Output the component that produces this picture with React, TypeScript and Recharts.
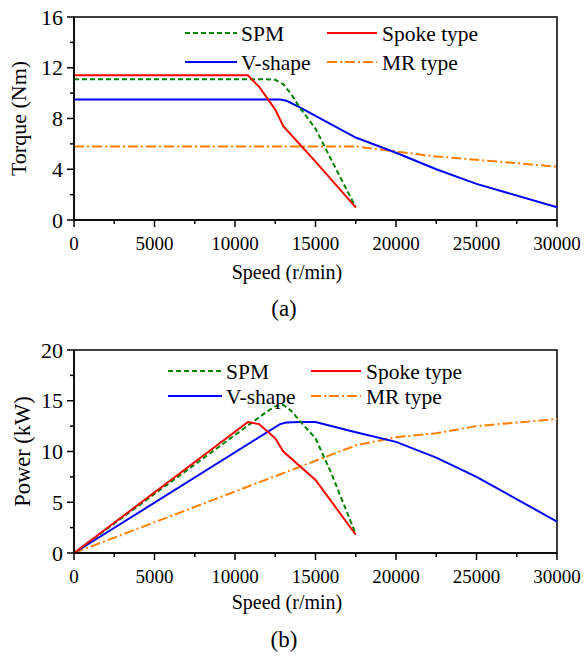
import { LineChart, Line, XAxis, YAxis, ReferenceArea, Legend } from "recharts";

const FONT = "Liberation Serif";

// speed axis
const speedTicks = [0, 2500, 5000, 7500, 10000, 12500, 15000, 17500, 20000, 22500, 25000, 27500, 30000];
const torqueTicks = [0, 2, 4, 6, 8, 10, 12, 14, 16];
const powerTicks = [0, 2.5, 5, 7.5, 10, 12.5, 15, 17.5, 20];

// SPM
const spmSpeed = [0, 12000, 12500, 13000, 13500, 14000, 15000, 16000, 17500];
const spmTorque = [11.1, 11.1, 11.05, 10.7, 9.9, 8.9, 7.2, 4.7, 1.0];
const spmPower = [0, 13.95, 14.45, 14.6, 14.0, 13.05, 11.3, 7.8, 1.85];

// Spoke type
const spokeSpeed = [0, 10800, 11500, 12000, 12500, 13000, 15000, 17500];
const spokeTorque = [11.4, 11.4, 10.5, 9.6, 8.7, 7.4, 4.6, 1.0];
const spokePower = [0, 12.9, 12.7, 12.0, 11.3, 10.0, 7.2, 1.8];

// V-shape
const vSpeed = [0, 12800, 13200, 14000, 15000, 17500, 20000, 22500, 25000, 30000];
const vTorque = [9.5, 9.5, 9.4, 8.9, 8.2, 6.5, 5.3, 4.0, 2.85, 1.0];
const vPower = [0, 12.7, 12.85, 12.9, 12.9, 11.9, 10.95, 9.4, 7.5, 3.1];

// MR type
const mrSpeed = [0, 17500, 20000, 22500, 25000, 30000];
const mrTorque = [5.8, 5.8, 5.4, 5.0, 4.75, 4.2];
const mrPower = [0, 10.6, 11.4, 11.8, 12.5, 13.2];

const toPoints = (xs: number[], ys: number[]) => xs.map((x, i) => ({ x, y: ys[i] }));

const styles = {
  spm: { name: "SPM", color: "#008000", dash: "5 3" },
  spoke: { name: "Spoke type", color: "#ff0000", dash: undefined },
  v: { name: "V-shape", color: "#0000ff", dash: undefined },
  mr: { name: "MR type", color: "#ff8000", dash: "10 3 2 3" },
};

// font as attribute and as style, both
const txt = (size: number) => ({
  fontFamily: FONT,
  fontSize: size,
  fontWeight: 400,
  style: { fontFamily: FONT, fontSize: size, fontWeight: 400 },
});

const XTick = ({ x, y, payload }: any) => {
  const major = payload.value % 5000 === 0;
  return (
    <g>
      <line x1={x} x2={x} y1={y} y2={y + (major ? 7 : 4)} stroke="#000" strokeWidth={1.5} />
      {major && (
        <text x={x} y={y + 30} textAnchor="middle" fill="#000" {...txt(19)}>
          {payload.value}
        </text>
      )}
    </g>
  );
};

const makeYTick = (step: number) => ({ x, y, payload }: any) => {
  const major = payload.value % step === 0;
  return (
    <g>
      <line x1={x} x2={x - (major ? 7 : 4)} y1={y} y2={y} stroke="#000" strokeWidth={1.5} />
      {major && (
        <text x={x - 11} y={y + 7.5} textAnchor="end" fill="#000" {...txt(22)}>
          {payload.value}
        </text>
      )}
    </g>
  );
};

type Item = { name: string; color: string; dash?: string };

function LegendBox({ cols, rows }: { cols: { x1: number; x2: number; tx: number; items: Item[] }[]; rows: number[] }) {
  return (
    <svg width={586} height={90} style={{ position: "absolute", left: 0, top: 0, overflow: "visible" }}>
      {cols.map((c) =>
        c.items.map((it, r) => (
          <g key={it.name}>
            <line x1={c.x1} x2={c.x2} y1={rows[r]} y2={rows[r]} stroke={it.color} strokeWidth={2} strokeDasharray={it.dash} />
            <text x={c.tx} y={rows[r] + 7.5} fill="#000" {...txt(21.5)}>
              {it.name}
            </text>
          </g>
        ))
      )}
    </svg>
  );
}

function Panel(props: {
  height: number;
  top: number;
  xAxisHeight: number;
  yMax: number;
  yTicks: number[];
  yStep: number;
  yLabel: string;
  yLabelX: number;
  yLabelSize: number;
  caption: string;
  speedDy: number;
  captionDy: number;
  series: { key: keyof typeof styles; xs: number[]; ys: number[] }[];
  legend: { cols: { x1: number; x2: number; tx: number; items: Item[] }[]; rows: number[] };
}) {
  const { height, top, xAxisHeight, yMax, yTicks, yStep, yLabel, yLabelX, caption, series, legend } = props;
  return (
    <LineChart
      width={586}
      height={height}
      margin={{ top, right: 29, left: 0, bottom: 0 }}
      style={{ fontFamily: FONT }}
    >
      <ReferenceArea x1={0} x2={30000} y1={0} y2={yMax} fill="none" stroke="#000" strokeWidth={1.5} />
      <XAxis
        dataKey="x"
        type="number"
        domain={[0, 30000]}
        ticks={speedTicks}
        interval={0}
        height={xAxisHeight}
        tickSize={0}
        tickMargin={0}
        tickLine={false}
        axisLine={{ stroke: "#000", strokeWidth: 1.5 }}
        tick={(p: any) => <XTick {...p} />}
        label={({ viewBox }: any) => (
          <g fill="#000">
            <text x={287} y={viewBox.y + props.speedDy} textAnchor="middle" {...txt(20)}>
              Speed (r/min)
            </text>
            <text x={284} y={viewBox.y + props.captionDy} textAnchor="middle" {...txt(23)}>
              {caption}
            </text>
          </g>
        )}
      />
      <YAxis
        type="number"
        domain={[0, yMax]}
        ticks={yTicks}
        interval={0}
        width={74}
        tickSize={0}
        tickMargin={0}
        tickLine={false}
        axisLine={{ stroke: "#000", strokeWidth: 1.5 }}
        tick={makeYTick(yStep)}
        label={({ viewBox }: any) => {
          const cy = viewBox.y + viewBox.height / 2;
          return (
            <text
              x={yLabelX}
              y={cy}
              textAnchor="middle"
              fill="#000"
              {...txt(props.yLabelSize)}
              transform={`rotate(-90 ${yLabelX} ${cy})`}
            >
              {yLabel}
            </text>
          );
        }}
      />
      <Legend
        verticalAlign="middle"
        align="center"
        wrapperStyle={{ position: "absolute", left: 0, top: 0, width: 586, height: 90 }}
        content={() => <LegendBox {...legend} />}
      />
      {series.map((s) => (
        <Line
          key={s.key}
          data={toPoints(s.xs, s.ys)}
          dataKey="y"
          name={styles[s.key].name}
          type="linear"
          stroke={styles[s.key].color}
          strokeWidth={2}
          strokeDasharray={styles[s.key].dash}
          dot={false}
          activeDot={false}
          isAnimationActive={false}
        />
      ))}
    </LineChart>
  );
}

export default function App() {
  return (
    <div
      style={{
        position: "absolute",
        left: 0,
        top: 0,
        width: 586,
        height: 659,
        background: "#fff",
        fontFamily: FONT,
      }}
    >
      <Panel
        height={330}
        top={17}
        xAxisHeight={110}
        yMax={16}
        yTicks={torqueTicks}
        yStep={4}
        yLabel="Torque (Nm)"
        yLabelX={26}
        yLabelSize={22}
        caption="(a)"
        speedDy={59}
        captionDy={96}
        series={[
          { key: "mr", xs: mrSpeed, ys: mrTorque },
          { key: "v", xs: vSpeed, ys: vTorque },
          { key: "spm", xs: spmSpeed, ys: spmTorque },
          { key: "spoke", xs: spokeSpeed, ys: spokeTorque },
        ]}
        legend={{
          cols: [
            { x1: 185, x2: 237, tx: 241, items: [styles.spm, styles.v] },
            { x1: 327, x2: 377, tx: 382, items: [styles.spoke, styles.mr] },
          ],
          rows: [33, 62],
        }}
      />
      <Panel
        height={329}
        top={20}
        xAxisHeight={106}
        yMax={20}
        yTicks={powerTicks}
        yStep={5}
        yLabel="Power (kW)"
        yLabelX={30}
        yLabelSize={22.5}
        caption="(b)"
        speedDy={56}
        captionDy={94}
        series={[
          { key: "mr", xs: mrSpeed, ys: mrPower },
          { key: "v", xs: vSpeed, ys: vPower },
          { key: "spm", xs: spmSpeed, ys: spmPower },
          { key: "spoke", xs: spokeSpeed, ys: spokePower },
        ]}
        legend={{
          cols: [
            { x1: 168, x2: 222, tx: 226, items: [styles.spm, styles.v] },
            { x1: 311, x2: 361, tx: 366, items: [styles.spoke, styles.mr] },
          ],
          rows: [41, 66],
        }}
      />
    </div>
  );
}
